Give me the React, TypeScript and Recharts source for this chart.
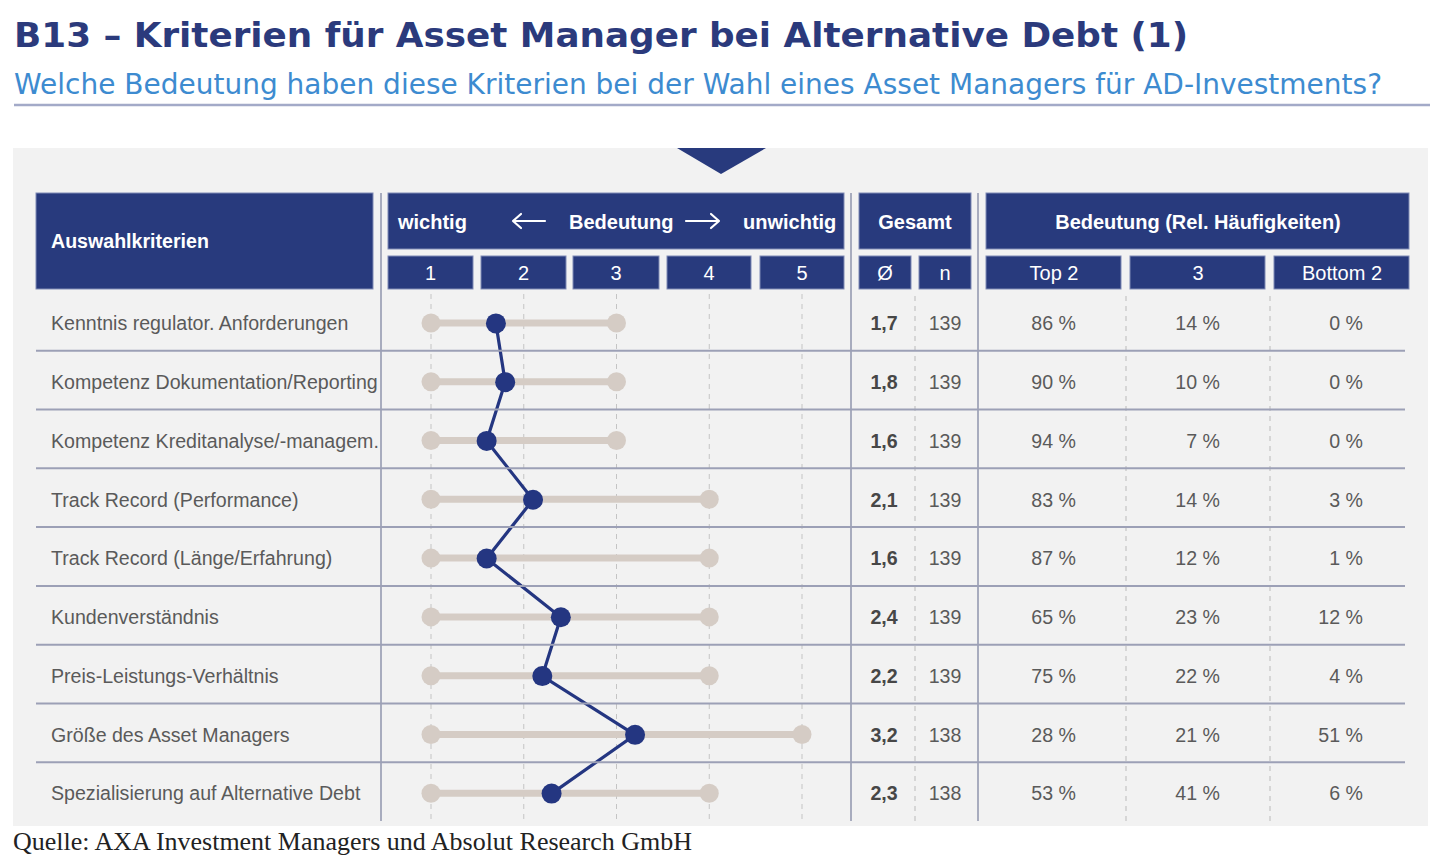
import React from "react";
import { ComposedChart, Bar, Line, XAxis, YAxis, CartesianGrid } from "recharts";

const criteria = [
  "Kenntnis regulator. Anforderungen",
  "Kompetenz Dokumentation/Reporting",
  "Kompetenz Kreditanalyse/-managem.",
  "Track Record (Performance)",
  "Track Record (Länge/Erfahrung)",
  "Kundenverständnis",
  "Preis-Leistungs-Verhältnis",
  "Größe des Asset Managers",
  "Spezialisierung auf Alternative Debt",
];
const meanValues = [1.7, 1.8, 1.6, 2.1, 1.6, 2.4, 2.2, 3.2, 2.3];
const rangeMin = [1, 1, 1, 1, 1, 1, 1, 1, 1];
const rangeMax = [3, 3, 3, 4, 4, 4, 4, 5, 4];
const nValues = [139, 139, 139, 139, 139, 139, 139, 138, 138];
const top2Values = [86, 90, 94, 83, 87, 65, 75, 28, 53];
const mid3Values = [14, 10, 7, 14, 12, 23, 22, 21, 41];
const bottom2Values = [0, 0, 0, 3, 1, 12, 4, 51, 6];
const scaleTicks = [1, 2, 3, 4, 5];

const TITLE = "B13 – Kriterien für Asset Manager bei Alternative Debt (1)";
const SUBTITLE =
  "Welche Bedeutung haben diese Kriterien bei der Wahl eines Asset Managers für AD-Investments?";
const SOURCE = "Quelle: AXA Investment Managers und Absolut Research GmbH";

const data = criteria.map((name, i) => ({
  name,
  mean: meanValues[i],
  range: [rangeMin[i], rangeMax[i]],
}));

const NAVY = "#283a7d";
const DOT = "#243681";
const GREY = "#d5ccc5";
const SEP = "#9ca0b6";
const TXT = "#5a5a5a";
const SANS = "'Liberation Sans', Arial, sans-serif";

const W = 1450;
const H = 864;
const PLOT_TOP = 294;
const PLOT_BOTTOM = 823;
const BAND = (PLOT_BOTTOM - PLOT_TOP) / criteria.length;

const fmt = (v: number) => v.toFixed(1).replace(".", ",");

const RowTick = (props: any) => {
  const { y, payload } = props;
  let index = props.index;
  if (typeof index !== "number") index = criteria.indexOf(payload?.value);
  return (
    <g fontFamily={SANS} fontSize={19.6} fill={TXT}>
      <text x={51} y={y} dy="0.35em" textAnchor="start" fill={TXT}>
        {payload.value}
      </text>
      <text x={884} y={y} dy="0.35em" textAnchor="middle" fontWeight="bold" fill="#474747">
        {fmt(meanValues[index])}
      </text>
      <text x={945} y={y} dy="0.35em" textAnchor="middle" fill={TXT}>
        {nValues[index]}
      </text>
      <text x={1076} y={y} dy="0.35em" textAnchor="end" fill={TXT}>
        {top2Values[index] + " %"}
      </text>
      <text x={1220} y={y} dy="0.35em" textAnchor="end" fill={TXT}>
        {mid3Values[index] + " %"}
      </text>
      <text x={1363} y={y} dy="0.35em" textAnchor="end" fill={TXT}>
        {bottom2Values[index] + " %"}
      </text>
      {index < criteria.length - 1 && (
        <line x1={36} x2={1405} y1={y + BAND / 2 - 2} y2={y + BAND / 2 - 2} stroke={SEP} strokeWidth={2} />
      )}
    </g>
  );
};

const RangeShape = (props: any) => {
  const { x, y, width, height } = props;
  const cy = y + height / 2;
  return (
    <g>
      <line x1={x} x2={x + width} y1={cy} y2={cy} stroke={GREY} strokeWidth={7} />
      <circle cx={x} cy={cy} r={9.5} fill={GREY} />
      <circle cx={x + width} cy={cy} r={9.5} fill={GREY} />
    </g>
  );
};

const Box = ({ x1, x2, y1, y2 }: { x1: number; x2: number; y1: number; y2: number }) => (
  <rect x={x1} y={y1} width={x2 - x1} height={y2 - y1} fill={NAVY} stroke="#7f8ab5" strokeWidth={1} />
);

const Background = () => {
  const scaleBoxes = [
    [388, 473],
    [481, 566],
    [573, 659],
    [667, 751],
    [760, 844],
  ];
  return (
    <svg width={W} height={H} style={{ position: "absolute", left: 0, top: 0 }}>
      <rect x={0} y={0} width={W} height={H} fill="#ffffff" />
      <text
        x={14}
        y={47}
        fontFamily="'DejaVu Sans', Verdana, sans-serif"
        fontWeight="bold"
        fontSize={34}
        fill="#2b3a7c"
        textLength={1174}
        lengthAdjust="spacingAndGlyphs"
      >
        {TITLE}
      </text>
      <text
        x={14}
        y={94}
        fontFamily="'DejaVu Sans', Verdana, sans-serif"
        fontSize={29}
        fill="#3d8bd0"
        textLength={1368}
        lengthAdjust="spacingAndGlyphs"
      >
        {SUBTITLE}
      </text>
      <line x1={14} x2={1430} y1={105} y2={105} stroke="#a3aac8" strokeWidth={2.5} />
      <rect x={13} y={148} width={1415} height={678} fill="#f2f2f2" />
      <polygon points="677,148 766,148 721,174" fill={NAVY} />

      <Box x1={36} x2={373} y1={193} y2={289} />
      <Box x1={388} x2={844} y1={193} y2={249} />
      {scaleBoxes.map(([a, b], i) => (
        <Box key={i} x1={a} x2={b} y1={256} y2={289} />
      ))}
      <Box x1={859} x2={971} y1={193} y2={249} />
      <Box x1={859} x2={911} y1={256} y2={289} />
      <Box x1={919} x2={971} y1={256} y2={289} />
      <Box x1={986} x2={1409} y1={193} y2={249} />
      <Box x1={986} x2={1121} y1={256} y2={289} />
      <Box x1={1130} x2={1265} y1={256} y2={289} />
      <Box x1={1274} x2={1409} y1={256} y2={289} />

      <g fontFamily={SANS} fill="#ffffff" fontSize={20}>
        <text x={51} y={248} fontWeight="bold" fontSize={19.6}>Auswahlkriterien</text>
        <text x={398} y={229} fontWeight="bold">wichtig</text>
        <text x={569} y={229} fontWeight="bold">Bedeutung</text>
        <text x={743} y={229} fontWeight="bold">unwichtig</text>
        {scaleBoxes.map(([a, b], i) => (
          <text key={i} x={(a + b) / 2} y={280} textAnchor="middle">{scaleTicks[i]}</text>
        ))}
        <text x={915} y={229} textAnchor="middle" fontWeight="bold">Gesamt</text>
        <text x={885} y={280} textAnchor="middle">Ø</text>
        <text x={945} y={280} textAnchor="middle">n</text>
        <text x={1198} y={229} textAnchor="middle" fontWeight="bold">Bedeutung (Rel. Häufigkeiten)</text>
        <text x={1054} y={280} textAnchor="middle">Top 2</text>
        <text x={1198} y={280} textAnchor="middle">3</text>
        <text x={1342} y={280} textAnchor="middle">Bottom 2</text>
      </g>
      <g stroke="#ffffff" strokeWidth={2.2} fill="none" strokeLinecap="round" strokeLinejoin="round">
        <path d="M513 221 H545 M521 214 L513 221 L521 228" />
        <path d="M686 221 H719 M711 214 L719 221 L711 228" />
      </g>

      <g stroke="#8f94ac" strokeWidth={1.5}>
        <line x1={381} x2={381} y1={193} y2={821} />
        <line x1={851} x2={851} y1={193} y2={821} />
        <line x1={978} x2={978} y1={193} y2={821} />
      </g>
      <g stroke="#c4c4c4" strokeWidth={1.2} strokeDasharray="5 5">
        <line x1={915} x2={915} y1={296} y2={821} />
        <line x1={1126} x2={1126} y1={296} y2={821} />
        <line x1={1270} x2={1270} y1={296} y2={821} />
      </g>

      <text
        x={13}
        y={850}
        fontFamily="'Liberation Serif', 'DejaVu Serif', serif"
        fontSize={25}
        fill="#222222"
        textLength={679}
        lengthAdjust="spacingAndGlyphs"
      >
        {SOURCE}
      </text>
    </svg>
  );
};

export default function App() {
  return (
    <div style={{ position: "absolute", left: 0, top: 0, width: W, height: H, overflow: "hidden" }}>
      <Background />
      <div style={{ position: "absolute", left: 0, top: 0 }}>
        <ComposedChart
          width={W}
          height={H}
          layout="vertical"
          data={data}
          margin={{ top: PLOT_TOP, bottom: H - PLOT_BOTTOM, left: 31, right: W - 802 }}
        >
          <CartesianGrid horizontal={false} vertical stroke="#c4c4c4" strokeDasharray="5 5" />
          <XAxis type="number" domain={[1, 5]} ticks={scaleTicks} hide />
          <YAxis
            type="category"
            dataKey="name"
            width={400}
            axisLine={false}
            tickLine={false}
            interval={0}
            tick={<RowTick />}
          />
          <Bar dataKey="range" barSize={8} shape={<RangeShape />} isAnimationActive={false} />
          <Line
            dataKey="mean"
            stroke={DOT}
            strokeWidth={3.2}
            dot={{ r: 10, fill: DOT, stroke: "none" }}
            activeDot={false}
            isAnimationActive={false}
          />
        </ComposedChart>
      </div>
    </div>
  );
}
